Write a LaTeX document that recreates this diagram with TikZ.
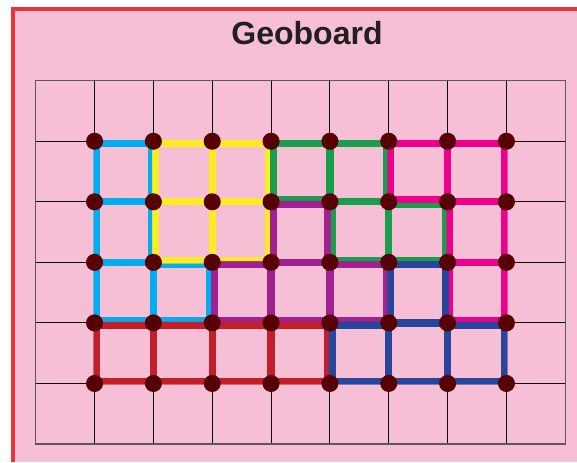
\documentclass[tikz,border=0pt]{standalone}
\usepackage{fontspec}
\setmainfont{Liberation Sans}
\definecolor{bgpink}{RGB}{246,191,214}
\definecolor{framered}{RGB}{238,50,56}
\definecolor{titlecol}{RGB}{35,31,32}
\definecolor{gcyan}{RGB}{0,174,239}
\definecolor{gyellow}{RGB}{252,236,33}
\definecolor{ggreen}{RGB}{25,158,75}
\definecolor{gpink}{RGB}{236,0,140}
\definecolor{gpurple}{RGB}{160,33,143}
\definecolor{gred}{RGB}{193,32,42}
\definecolor{gblue}{RGB}{39,69,154}
\definecolor{dotcol}{RGB}{86,0,6}
\tikzset{
  gridline/.style={draw=black, line width=0.7pt},
  gridouter/.style={draw=black!65, line width=1.1pt},
  band/.style={line width=5.4pt},
  rim/.style={line width=8.6pt},
  peg/.style={circle, fill=dotcol, inner sep=0pt, minimum size=12.8pt},
  titletext/.style={font=\bfseries\fontsize{24}{28}\selectfont, text=titlecol, anchor=base}
}
% #1 colour, #2 unit squares, #3 outline of the piece
\newcommand{\gbpiece}[3]{%
  \begin{scope}
    \clip \foreach \a/\b in {#2} {(\a-0.017,\b-0.017) rectangle (\a+1.017,\b+1.017)};
    \draw[band, draw=#1] \foreach \a/\b in {#2} {(\a,\b) rectangle (\a+1,\b+1)};
    \draw[rim, draw=#1] #3;
  \end{scope}}
\begin{document}
\begin{tikzpicture}[x=0.75pt, y=-0.75pt]
  \useasboundingbox (0,0) rectangle (577,462);
  \fill[white] (0,0) rectangle (577,462);
  \fill[bgpink] (11,7.3) rectangle (577,462);
  \draw[framered, line width=2.9pt] (13,462) -- (13,9.2) -- (577,9.2);
  \node[titletext] (title) at (307,44) {Geoboard};
  \begin{scope}[shift={(35.7*0.75pt,-80.7*0.75pt)}, x=58.84*0.75pt, y=-60.55*0.75pt]
    \foreach \i in {1,...,8} {\draw[gridline] (\i,0) -- (\i,6);}
    \foreach \j in {1,...,5} {\draw[gridline] (0,\j) -- (9,\j);}
    \draw[gridouter] (0,0) rectangle (9,6);
    \gbpiece{gcyan}{1/1,1/2,1/3,2/3}{(1,1) -- (2,1) -- (2,3) -- (3,3) -- (3,4) -- (1,4) -- cycle}
    \gbpiece{gyellow}{2/1,3/1,2/2,3/2}{(2,1) -- (4,1) -- (4,3) -- (2,3) -- cycle}
    \gbpiece{ggreen}{4/1,5/1,5/2,6/2}{(4,1) -- (6,1) -- (6,2) -- (7,2) -- (7,3) -- (5,3) -- (5,2) -- (4,2) -- cycle}
    \gbpiece{gpink}{6/1,7/1,7/2,7/3}{(6,1) -- (8,1) -- (8,4) -- (7,4) -- (7,2) -- (6,2) -- cycle}
    \gbpiece{gpurple}{4/2,3/3,4/3,5/3}{(4,2) -- (5,2) -- (5,3) -- (6,3) -- (6,4) -- (3,4) -- (3,3) -- (4,3) -- cycle}
    \gbpiece{gred}{1/4,2/4,3/4,4/4}{(1,4) -- (5,4) -- (5,5) -- (1,5) -- cycle}
    \gbpiece{gblue}{6/3,5/4,6/4,7/4}{(6,3) -- (7,3) -- (7,4) -- (8,4) -- (8,5) -- (5,5) -- (5,4) -- (6,4) -- cycle}
    \foreach \i in {1,...,8} {
      \foreach \j in {1,...,5} {
        \node[peg] (p-\i-\j) at (\i,\j) {};
      }
    }
  \end{scope}
\end{tikzpicture}
\end{document}
